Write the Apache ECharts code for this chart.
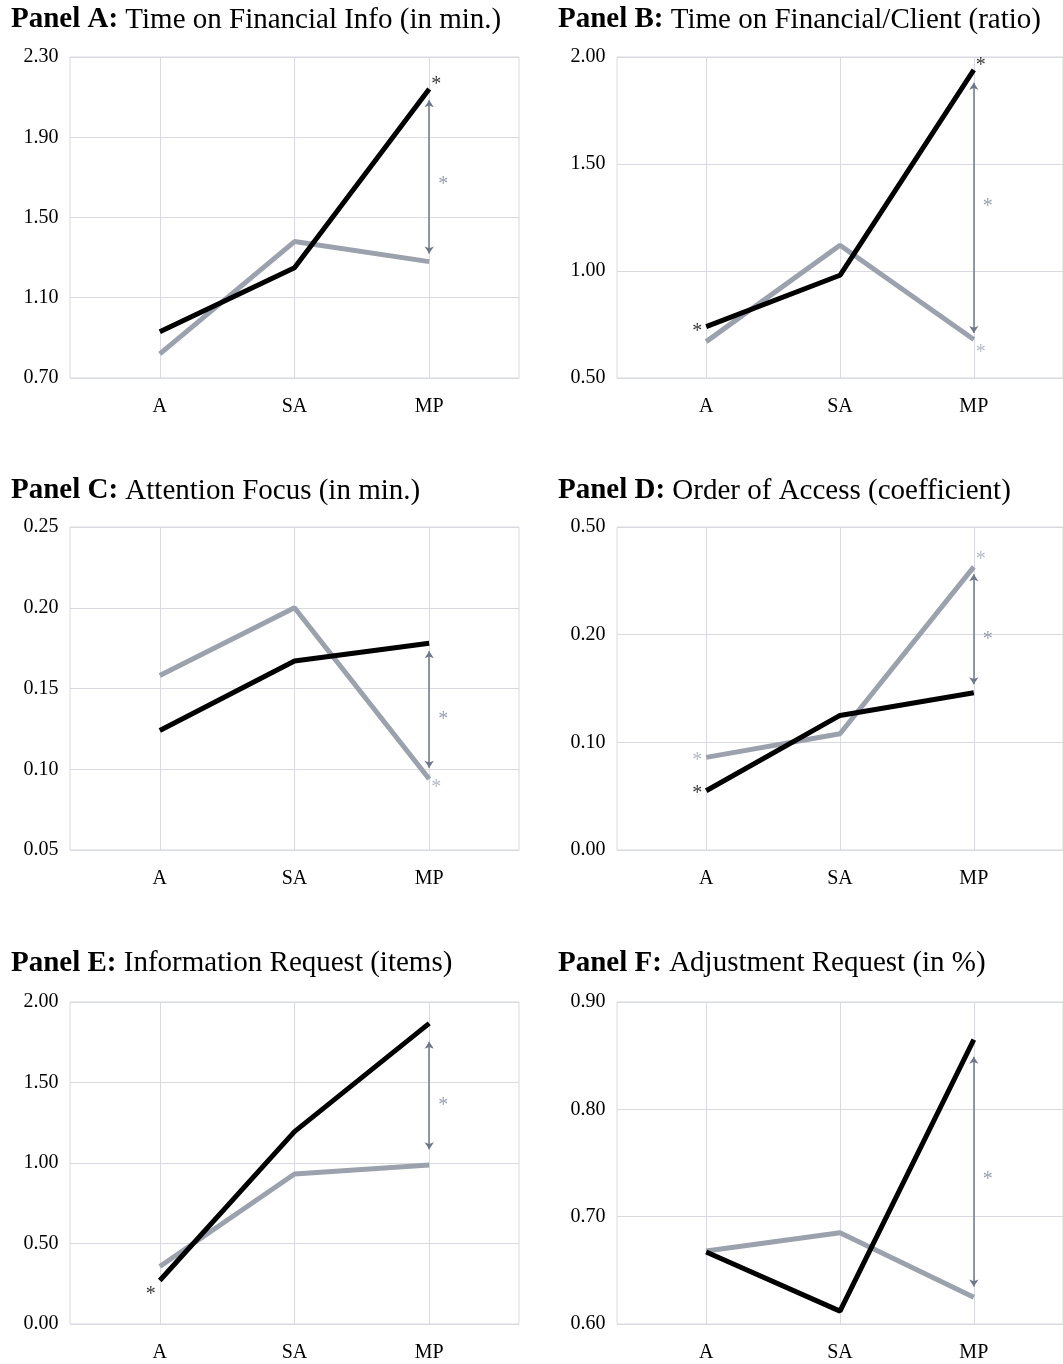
<!DOCTYPE html>
<html><head><meta charset="utf-8">
<script src="https://cdn.jsdelivr.net/npm/echarts@6/dist/echarts.min.js"></script>
<style>html,body{margin:0;padding:0;background:#fff}#c{width:1063px;height:1364px}</style>
</head><body><div id="c"></div>
<script>
// ---------- DATA ----------
const categories = ['A', 'SA', 'MP'];

const panelLetters = ['Panel A:', 'Panel B:', 'Panel C:', 'Panel D:', 'Panel E:', 'Panel F:'];
const panelTitles = [
  'Time on Financial Info (in min.)',
  'Time on Financial/Client (ratio)',
  'Attention Focus (in min.)',
  'Order of Access (coefficient)',
  'Information Request (items)',
  'Adjustment Request (in %)'
];

// Panel A
const blackA = [0.93, 1.25, 2.14];
const grayA = [0.82, 1.38, 1.28];
const yTicksA = [0.7, 1.1, 1.5, 1.9, 2.3];
const yLabelsA = ['0.70', '1.10', '1.50', '1.90', '2.30'];
const arrowA = [2.085, 1.32];
const starsA = [
  { cat: 2, y: 2.176, tone: 'black', side: 'R' },
  { cat: 2, y: 1.677, tone: 'mid', side: 'RR' }
];

// Panel B
const blackB = [0.74, 0.98, 1.94];
const grayB = [0.67, 1.12, 0.68];
const yTicksB = [0.5, 1.0, 1.5, 2.0];
const yLabelsB = ['0.50', '1.00', '1.50', '2.00'];
const arrowB = [1.88, 0.71];
const starsB = [
  { cat: 0, y: 0.729, tone: 'black', side: 'L' },
  { cat: 2, y: 1.975, tone: 'black', side: 'R' },
  { cat: 2, y: 1.313, tone: 'mid', side: 'RR' },
  { cat: 2, y: 0.632, tone: 'light', side: 'R' }
];

// Panel C
const blackC = [0.124, 0.167, 0.178];
const grayC = [0.158, 0.200, 0.094];
const yTicksC = [0.05, 0.10, 0.15, 0.20, 0.25];
const yLabelsC = ['0.05', '0.10', '0.15', '0.20', '0.25'];
const arrowC = [0.173, 0.101];
const starsC = [
  { cat: 2, y: 0.1326, tone: 'mid', side: 'RR' },
  { cat: 2, y: 0.0903, tone: 'light', side: 'R' }
];

// Panel D
const blackD = [0.055, 0.125, 0.146];
const grayD = [0.086, 0.108, 0.263];
const yTicksD = [0, 0.1, 0.2, 0.3];
const yLabelsD = ['0.00', '0.10', '0.20', '0.50'];
const arrowD = [0.256, 0.154];
const starsD = [
  { cat: 0, y: 0.0857, tone: 'light', side: 'L' },
  { cat: 0, y: 0.0551, tone: 'black', side: 'L' },
  { cat: 2, y: 0.272, tone: 'light', side: 'R' },
  { cat: 2, y: 0.198, tone: 'mid', side: 'RR' }
];

// Panel E
const blackE = [0.27, 1.195, 1.867];
const grayE = [0.357, 0.932, 0.988];
const yTicksE = [0, 0.5, 1.0, 1.5, 2.0];
const yLabelsE = ['0.00', '0.50', '1.00', '1.50', '2.00'];
const arrowE = [1.753, 1.086];
const starsE = [
  { cat: 0, y: 0.1985, tone: 'black', side: 'L' },
  { cat: 2, y: 1.375, tone: 'mid', side: 'RR' }
];

// Panel F
const blackF = [0.667, 0.612, 0.865];
const grayF = [0.668, 0.685, 0.625];
const yTicksF = [0.6, 0.7, 0.8, 0.9];
const yLabelsF = ['0.60', '0.70', '0.80', '0.90'];
const arrowF = [0.849, 0.635];
const starsF = [
  { cat: 2, y: 0.737, tone: 'mid', side: 'RR' }
];

// ---------- STYLE / LAYOUT ----------
const FONT = "'Liberation Serif', 'Times New Roman', 'DejaVu Serif', serif";
const GRID_COLOR = '#d9dae0';
const BLACK = '#000000';
const GRAY = '#9ba1ad';
const ARROW = '#6f788a';
const STAR_COLORS = { black: '#000000', mid: '#7f889a', light: '#a3a9b4' };
const STAR_DX = { L: -9, R: 7, RR: 14 };

const panels = [
  { black: blackA, gray: grayA, ticks: yTicksA, labels: yLabelsA, arrow: arrowA, stars: starsA },
  { black: blackB, gray: grayB, ticks: yTicksB, labels: yLabelsB, arrow: arrowB, stars: starsB },
  { black: blackC, gray: grayC, ticks: yTicksC, labels: yLabelsC, arrow: arrowC, stars: starsC },
  { black: blackD, gray: grayD, ticks: yTicksD, labels: yLabelsD, arrow: arrowD, stars: starsD },
  { black: blackE, gray: grayE, ticks: yTicksE, labels: yLabelsE, arrow: arrowE, stars: starsE },
  { black: blackF, gray: grayF, ticks: yTicksF, labels: yLabelsF, arrow: arrowF, stars: starsF }
];

const colLeft = [70, 617];
const gridWidth = 449;
const rowTop = [57, 527, 1002];
const rowHeight = [321, 323, 322];
const titleLeft = [11, 558];
const titleTop = [5.5, 476.5, 949];

const X_MIN = -2 / 3, X_MAX = 8 / 3;
const catIdx = categories.map((c, i) => i);

const option = {
  animation: false,
  backgroundColor: '#ffffff',
  title: [], grid: [], xAxis: [], yAxis: [], series: []
};

panels.forEach((p, i) => {
  const col = i % 2, row = Math.floor(i / 2);
  option.title.push({
    left: titleLeft[col], top: titleTop[row], padding: 0,
    text: '{b|' + panelLetters[i] + '} {r|' + panelTitles[i] + '}',
    textStyle: {
      fontFamily: FONT, fontSize: 29, color: '#000', fontWeight: 'normal',
      rich: {
        b: { fontFamily: FONT, fontSize: 29, fontWeight: 'bold', color: '#000' },
        r: { fontFamily: FONT, fontSize: 29, fontWeight: 'normal', color: '#000' }
      }
    }
  });
  option.grid.push({
    left: colLeft[col], top: rowTop[row], width: gridWidth, height: rowHeight[row],
    show: true, borderColor: GRID_COLOR, borderWidth: 1, backgroundColor: 'transparent',
    containLabel: false
  });
  option.xAxis.push({
    gridIndex: i, type: 'value', min: X_MIN, max: X_MAX,
    axisLine: { show: false },
    axisTick: { show: false, customValues: catIdx },
    axisLabel: {
      customValues: catIdx, margin: 19,
      formatter: v => categories[Math.round(v)] || '',
      fontFamily: FONT, fontSize: 20, color: '#000'
    },
    splitLine: { show: true, lineStyle: { color: GRID_COLOR, width: 1 } }
  });
  const ticks = p.ticks, labels = p.labels;
  option.yAxis.push({
    gridIndex: i, type: 'value', min: ticks[0], max: ticks[ticks.length - 1],
    axisLine: { show: false },
    axisTick: { show: false, customValues: ticks },
    axisLabel: {
      customValues: ticks, margin: 11.5,
      formatter: v => {
        let best = 0;
        ticks.forEach((t, k) => { if (Math.abs(t - v) < Math.abs(ticks[best] - v)) best = k; });
        return labels[best];
      },
      fontFamily: FONT, fontSize: 20, color: '#000'
    },
    splitLine: { show: true, lineStyle: { color: GRID_COLOR, width: 1 } }
  });
  option.series.push({
    type: 'line', xAxisIndex: i, yAxisIndex: i,
    data: p.gray.map((v, k) => [catIdx[k], v]),
    symbol: 'none', lineStyle: { color: GRAY, width: 5 }, z: 2,
    markLine: {
      silent: true, symbol: ['arrow', 'arrow'], symbolSize: 7,
      lineStyle: { color: ARROW, width: 1.5, type: 'solid' },
      label: { show: false },
      data: [[{ coord: [2, p.arrow[0]] }, { coord: [2, p.arrow[1]] }]]
    }
  });
  option.series.push({
    type: 'line', xAxisIndex: i, yAxisIndex: i,
    data: p.black.map((v, k) => [catIdx[k], v]),
    symbol: 'none', lineStyle: { color: BLACK, width: 5 }, z: 3
  });
  option.series.push({
    type: 'scatter', xAxisIndex: i, yAxisIndex: i, z: 4,
    symbolSize: 0, silent: true,
    data: p.stars.map(s => ({
      value: [s.cat, s.y],
      label: { color: STAR_COLORS[s.tone], offset: [STAR_DX[s.side], 3] }
    })),
    label: {
      show: true, position: 'inside', formatter: '*',
      fontFamily: FONT, fontSize: 20
    }
  });
});

const chart = echarts.init(document.getElementById('c'), null, { renderer: 'canvas' });
chart.setOption(option);
</script>
</body></html>
